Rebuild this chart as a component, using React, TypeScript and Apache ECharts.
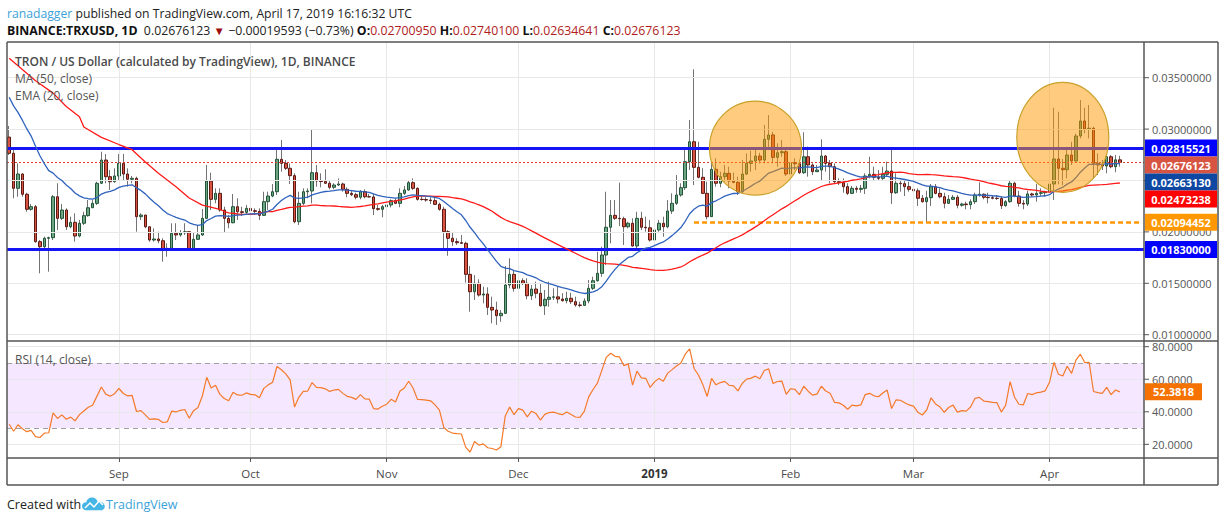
import React, { useEffect, useRef } from "react";
import * as echarts from "echarts";

const FONT = '"Open Sans", "Noto Sans", sans-serif';

// ---- time range (daily candles, Binance TRX/USD) ----
const START_DATE = "2018-08-07";
const AXIS_DAYS = 259; // Aug 7 2018 .. Apr 22 2019 (last candle Apr 17)
const MONTHS = ["Jan", "Feb", "Mar", "Apr", "May", "Jun", "Jul", "Aug", "Sep", "Oct", "Nov", "Dec"];

// ---- candles (open of each day = previous close on Binance) ----
const FIRST_OPEN = 0.02922;
const closes = [
  0.02765, 0.02424, 0.02563, 0.02366, 0.0222, 0.02245, 0.01905, 0.01856, 0.01938, 0.01944,
  0.02342, 0.02132, 0.02213, 0.0205, 0.02093, 0.0196, 0.02084, 0.02158, 0.02235, 0.02278,
  0.02473, 0.02699, 0.02537, 0.02488, 0.02544, 0.02667, 0.02563, 0.02512, 0.02521, 0.02148,
  0.02164, 0.0205, 0.01921, 0.01931, 0.01914, 0.01833, 0.0184, 0.01986, 0.0197, 0.01992,
  0.02002, 0.01833, 0.01928, 0.0197, 0.02132, 0.02495, 0.02317, 0.02375, 0.02213, 0.02132,
  0.02089, 0.02245, 0.02196, 0.0219, 0.02229, 0.02206, 0.022, 0.02161, 0.02294, 0.02349,
  0.02391, 0.02706, 0.02667, 0.02619, 0.02547, 0.02099, 0.02278, 0.02391, 0.02398, 0.02576,
  0.02495, 0.0249, 0.02473, 0.02434, 0.02456, 0.02466, 0.02414, 0.02375, 0.02362, 0.02337,
  0.02391, 0.02342, 0.0234, 0.02226, 0.0222, 0.02245, 0.02262, 0.02304, 0.02278, 0.02375,
  0.02408, 0.02479, 0.02424, 0.02317, 0.02315, 0.0231, 0.02304, 0.02268, 0.0222, 0.02002,
  0.01938, 0.01905, 0.01895, 0.01889, 0.01587, 0.01418, 0.015, 0.01386, 0.01396, 0.01266,
  0.0124, 0.01185, 0.01208, 0.01483, 0.01587, 0.01451, 0.01525, 0.015, 0.01379, 0.01444,
  0.01403, 0.01282, 0.01344, 0.01364, 0.01368, 0.01347, 0.01331, 0.01354, 0.01321, 0.01289,
  0.01285, 0.01328, 0.01451, 0.01525, 0.01597, 0.01775, 0.02045, 0.02161, 0.02132, 0.02128,
  0.0205, 0.02084, 0.01863, 0.02132, 0.02045, 0.0204, 0.01921, 0.02019, 0.02084, 0.0205,
  0.02203, 0.02278, 0.02359, 0.0243, 0.02683, 0.02877, 0.02628, 0.02531, 0.02375, 0.02148,
  0.02609, 0.02473, 0.02537, 0.0257, 0.02495, 0.02482, 0.02391, 0.02563, 0.02667, 0.0269,
  0.02738, 0.02699, 0.02901, 0.02943, 0.02725, 0.0277, 0.0278, 0.02563, 0.02673, 0.02663,
  0.02576, 0.02731, 0.02651, 0.02586, 0.02602, 0.02738, 0.02667, 0.02634, 0.02488, 0.02479,
  0.0244, 0.02375, 0.02424, 0.02414, 0.02424, 0.02544, 0.0256, 0.02531, 0.02521, 0.0256,
  0.02592, 0.02381, 0.02473, 0.02469, 0.0244, 0.02414, 0.024, 0.02327, 0.02294, 0.02333,
  0.0244, 0.02375, 0.02342, 0.02278, 0.02317, 0.02337, 0.02259, 0.02271, 0.02265, 0.02294,
  0.02359, 0.02366, 0.02337, 0.02333, 0.02327, 0.02325, 0.02255, 0.02294, 0.02473, 0.02349,
  0.02278, 0.02271, 0.02369, 0.02359, 0.02375, 0.02381, 0.02391, 0.02466, 0.02709, 0.02619,
  0.02605, 0.02748, 0.0269, 0.02933, 0.03079, 0.03001, 0.03008, 0.02667, 0.02651, 0.02641,
  0.02731, 0.02634, 0.02701, 0.02676123,
];
const highs = [
  0.0303, 0.02797, 0.02667, 0.0257, 0.0238, 0.02271, 0.02262, 0.01921, 0.01953, 0.01953,
  0.02359, 0.02473, 0.02271, 0.02229, 0.02148, 0.02181, 0.02116, 0.02196, 0.0231, 0.0231,
  0.02488, 0.0278, 0.02758, 0.02602, 0.02619, 0.02758, 0.02758, 0.02619, 0.02544, 0.02537,
  0.02181, 0.02148, 0.0205, 0.02035, 0.02002, 0.01938, 0.01889, 0.02084, 0.02084, 0.02018,
  0.02084, 0.02002, 0.01992, 0.02067, 0.02223, 0.02651, 0.02576, 0.02424, 0.02424, 0.02245,
  0.02164, 0.02369, 0.02327, 0.02245, 0.02262, 0.02245, 0.02229, 0.02229, 0.02391, 0.02391,
  0.02466, 0.02797, 0.02894, 0.02699, 0.02667, 0.0257, 0.02391, 0.02424, 0.02424, 0.02991,
  0.02651, 0.0257, 0.02609, 0.02505, 0.02473, 0.02521, 0.02479, 0.02434, 0.02408, 0.02381,
  0.02408, 0.02414, 0.02369, 0.02369, 0.02262, 0.02262, 0.02294, 0.02317, 0.02327, 0.02424,
  0.02447, 0.02498, 0.02521, 0.02434, 0.02359, 0.02337, 0.02337, 0.02337, 0.02284, 0.02245,
  0.02018, 0.01992, 0.01938, 0.0197, 0.01905, 0.01668, 0.0158, 0.01539, 0.01467, 0.01461,
  0.0137, 0.01321, 0.0124, 0.01668, 0.01743, 0.01629, 0.0158, 0.01549, 0.01549, 0.01483,
  0.01516, 0.015, 0.01435, 0.01516, 0.01451, 0.01467, 0.01403, 0.01418, 0.01408, 0.0137,
  0.01321, 0.01354, 0.01532, 0.01564, 0.01807, 0.01856, 0.02391, 0.0231, 0.0231, 0.02479,
  0.02148, 0.02099, 0.02132, 0.02196, 0.02196, 0.02148, 0.02116, 0.02067, 0.02116, 0.02148,
  0.0231, 0.02375, 0.02553, 0.02473, 0.02797, 0.03089, 0.03582, 0.02877, 0.02619, 0.02488,
  0.02683, 0.02716, 0.02586, 0.02651, 0.02634, 0.02576, 0.02537, 0.02699, 0.02764, 0.0279,
  0.02803, 0.0277, 0.0304, 0.03137, 0.02972, 0.02862, 0.02894, 0.02813, 0.02716, 0.02716,
  0.02699, 0.02969, 0.02829, 0.02667, 0.02651, 0.02901, 0.02748, 0.02699, 0.02667, 0.02521,
  0.02521, 0.02473, 0.02447, 0.02447, 0.02456, 0.0257, 0.02731, 0.02634, 0.02602, 0.02634,
  0.02683, 0.02823, 0.0257, 0.02505, 0.02505, 0.02488, 0.02447, 0.02424, 0.02359, 0.024,
  0.02466, 0.02466, 0.02424, 0.02381, 0.02359, 0.02359, 0.02359, 0.02284, 0.02294, 0.02317,
  0.02381, 0.02482, 0.02375, 0.02381, 0.02359, 0.02359, 0.02349, 0.0231, 0.02498, 0.02488,
  0.024, 0.0231, 0.024, 0.02381, 0.02466, 0.02424, 0.024, 0.02553, 0.03208, 0.03169,
  0.02709, 0.02797, 0.02877, 0.02956, 0.03283, 0.03208, 0.03234, 0.03023, 0.02764, 0.02699,
  0.02741, 0.02748, 0.02748, 0.027401,
];
const lows = [
  0.02748, 0.02327, 0.02342, 0.02342, 0.02196, 0.02206, 0.01895, 0.01597, 0.01824, 0.01613,
  0.01921, 0.02018, 0.02116, 0.02018, 0.02035, 0.01905, 0.01947, 0.02067, 0.02148, 0.02245,
  0.02262, 0.02466, 0.02473, 0.02408, 0.02479, 0.02505, 0.02505, 0.0244, 0.02473, 0.02002,
  0.02116, 0.02035, 0.01905, 0.01905, 0.01889, 0.0171, 0.01759, 0.01824, 0.01921, 0.01953,
  0.0197, 0.01824, 0.0183, 0.01921, 0.0196, 0.02132, 0.02213, 0.02278, 0.02196, 0.01995,
  0.02035, 0.02084, 0.02116, 0.02155, 0.02164, 0.02164, 0.02164, 0.02116, 0.02155, 0.02213,
  0.02337, 0.02359, 0.02586, 0.02602, 0.02466, 0.02084, 0.02067, 0.02262, 0.02327, 0.02278,
  0.0244, 0.02434, 0.02466, 0.02414, 0.02414, 0.02447, 0.02391, 0.02337, 0.02349, 0.02317,
  0.02317, 0.02327, 0.02337, 0.02164, 0.02206, 0.02142, 0.0222, 0.02239, 0.02271, 0.02239,
  0.02359, 0.024, 0.02408, 0.02304, 0.02304, 0.02294, 0.02271, 0.02262, 0.02206, 0.01831,
  0.01768, 0.01863, 0.01873, 0.01882, 0.01506, 0.01224, 0.01338, 0.0137, 0.01305, 0.01192,
  0.01111, 0.01095, 0.01126, 0.01201, 0.01451, 0.01418, 0.01386, 0.01483, 0.01344, 0.01338,
  0.01354, 0.01272, 0.01192, 0.01272, 0.01338, 0.01305, 0.01321, 0.01305, 0.01299, 0.01272,
  0.01266, 0.01289, 0.01305, 0.01435, 0.01516, 0.01564, 0.01678, 0.01889, 0.02116, 0.02057,
  0.01873, 0.02035, 0.01856, 0.0183, 0.02018, 0.02002, 0.01905, 0.01889, 0.02002, 0.01953,
  0.02035, 0.02174, 0.02262, 0.02342, 0.02408, 0.02602, 0.02456, 0.02521, 0.02369, 0.02122,
  0.02148, 0.0244, 0.02434, 0.02488, 0.02424, 0.02473, 0.02359, 0.02369, 0.02553, 0.02586,
  0.02602, 0.02667, 0.02667, 0.02813, 0.02667, 0.02634, 0.02731, 0.02544, 0.02434, 0.02602,
  0.02563, 0.02563, 0.02537, 0.02553, 0.02586, 0.02505, 0.02586, 0.02473, 0.02473, 0.02456,
  0.02381, 0.02359, 0.02369, 0.02381, 0.02381, 0.02369, 0.02521, 0.02505, 0.02505, 0.02505,
  0.02537, 0.02271, 0.02369, 0.02391, 0.02349, 0.02391, 0.02391, 0.02252, 0.02284, 0.0209,
  0.02252, 0.02366, 0.02327, 0.02229, 0.02271, 0.0231, 0.02229, 0.02245, 0.0222, 0.0222,
  0.02271, 0.02342, 0.02317, 0.02278, 0.02317, 0.0231, 0.02223, 0.02245, 0.02284, 0.02337,
  0.02245, 0.0222, 0.02252, 0.02342, 0.02294, 0.02349, 0.02342, 0.02342, 0.0231, 0.02463,
  0.02456, 0.02521, 0.02651, 0.02683, 0.0291, 0.02959, 0.0291, 0.02521, 0.02553, 0.02602,
  0.0257, 0.02619, 0.0258, 0.02634641,
];

// ---- indicator settings / values ----
const MA_PERIOD = 50;
const EMA_PERIOD = 20;
const RSI_PERIOD = 14;
// MA(50) before 50 candles exist in the window: [candle index, value]
const ma50Head: [number, number][] = [
  [0, 0.0369], [6, 0.0347], [10, 0.0335], [13, 0.0322], [16, 0.0312], [17, 0.0302],
  [21, 0.0292], [25, 0.0285], [28, 0.028], [31, 0.0268], [34, 0.0257], [38, 0.0244],
  [41, 0.0233], [44, 0.0226], [48, 0.0222],
];
const EMA20_SEED = 0.0331; // EMA value at the first visible candle
const RSI_SEED_GAIN = 0.00055; // Wilder averages at the first visible candle
const RSI_SEED_LOSS = 0.00115;

// ---- drawn levels & tags ----
const RESISTANCE = 0.02815521;
const SUPPORT = 0.0183;
const LAST_PRICE = 0.02676123;
const SWING_LOW = 0.02094452;
const SWING_LOW_FROM = "2019-01-10";
const tagValues = [0.02815521, 0.02676123, 0.0266313, 0.02473238, 0.02094452, 0.0183];
const tagColors = ["#0000ff", "#d75442", "#0d47a1", "#ff0000", "#ff9800", "#0000ff"];
const RSI_LAST = 52.3818;
const priceTicks = [0.01, 0.015, 0.02, 0.025, 0.03, 0.035];
const rsiTicks = [20, 40, 60, 80];
const rsiBand = [30, 70];
// highlighted zones: [centre date, centre price]
const zoneCentres: [string, number][] = [["2019-01-24", 0.02815], ["2019-04-04", 0.0292]];
const zoneRadii: [number, number][] = [[46, 47], [46, 55]];

const PRICE_MIN = 0.009387;
const PRICE_MAX = 0.038473;
const RSI_MIN = 11.6;
const RSI_MAX = 83.5;

const shapeReg: any = (echarts as any).graphic;
try {
  shapeReg.registerShape(
    "tvlogo",
    shapeReg.extendPath(
      "M5 14 C2 14 0 12 0 9.5 C0 7 2 5.5 4.5 5.5 C5 2.5 7.5 0.5 10.5 0.5 C13.5 0.5 15.8 2.5 16.5 5 C17 4.8 17.5 4.7 18 4.7 C21.3 4.7 24 7.2 24 10 C24 12.3 22 14 19.5 14 Z",
      {}
    )
  );
} catch (e) {
  /* already registered */
}

function dayList(start: string, n: number): string[] {
  const t0 = Date.parse(start + "T00:00:00Z");
  const out: string[] = [];
  for (let i = 0; i < n; i++) out.push(new Date(t0 + i * 86400000).toISOString().slice(0, 10));
  return out;
}

export default function App() {
  const ref = useRef<HTMLDivElement>(null);

  useEffect(() => {
    const el = ref.current!;
    const chart = echarts.init(el, null, { renderer: "svg" });

    const dates = dayList(START_DATE, AXIS_DAYS);
    const monthStarts = dates.filter((d) => d.endsWith("-01"));
    const opens = closes.map((c, i) => (i === 0 ? FIRST_OPEN : closes[i - 1]));

    const full = closes.map((c, i) => {
      const o = opens[i];
      return [o, c, Math.min(lows[i], o, c), Math.max(highs[i], o, c)];
    });
    const bodies = closes.map((c, i) => {
      const o = opens[i];
      return [o, c, Math.min(o, c), Math.max(o, c)];
    });

    // EMA(20)
    const kE = 2 / (EMA_PERIOD + 1);
    const ema: number[] = [];
    closes.forEach((c, i) => ema.push(i === 0 ? EMA20_SEED : ema[i - 1] + kE * (c - ema[i - 1])));
    // MA(50)
    const ma = closes.map((_, i) => {
      if (i >= MA_PERIOD - 1) {
        let s = 0;
        for (let j = i - MA_PERIOD + 1; j <= i; j++) s += closes[j];
        return s / MA_PERIOD;
      }
      const h = ma50Head.find((p) => p[0] === i);
      return h ? h[1] : null;
    });
    // RSI(14), Wilder
    let g = RSI_SEED_GAIN;
    let l = RSI_SEED_LOSS;
    const rsi = closes.map((c, i) => {
      if (i > 0) {
        const ch = c - closes[i - 1];
        g = (g * (RSI_PERIOD - 1) + Math.max(ch, 0)) / RSI_PERIOD;
        l = (l * (RSI_PERIOD - 1) + Math.max(-ch, 0)) / RSI_PERIOD;
      }
      return 100 - 100 / (1 + g / l);
    });

    const isMonthStart = (_: number, v: string) => String(v).endsWith("-01");
    const grey = "#e8e8e8";

    const option: any = {
      animation: false,
      backgroundColor: "#ffffff",
      textStyle: { fontFamily: FONT },
      grid: [
        { left: 7, top: 42, width: 1137, height: 299 },
        { left: 7, top: 341, width: 1137, height: 117 },
      ],
      xAxis: [
        { type: "category", gridIndex: 0, data: dates, boundaryGap: true, show: false },
        {
          type: "category",
          gridIndex: 1,
          data: dates,
          boundaryGap: true,
          axisLine: { show: false },
          splitLine: { show: false },
          axisTick: {
            show: true,
            alignWithLabel: true,
            interval: isMonthStart,
            length: 4,
            lineStyle: { color: "#555" },
          },
          axisLabel: {
            interval: isMonthStart,
            margin: 9,
            color: "#4a4a4a",
            fontSize: 11.5,
            fontFamily: FONT,
            formatter: (v: string) => {
              const m = +v.slice(5, 7);
              return m === 1 ? "{y|" + v.slice(0, 4) + "}" : MONTHS[m - 1];
            },
            rich: { y: { fontWeight: "bold", color: "#333", fontSize: 11.5, fontFamily: FONT } },
          },
        },
      ],
      yAxis: [
        { type: "value", gridIndex: 0, min: PRICE_MIN, max: PRICE_MAX, show: false },
        { type: "value", gridIndex: 1, min: RSI_MIN, max: RSI_MAX, show: false },
      ],
      series: [
        // price grid lines + price axis labels
        {
          type: "line",
          xAxisIndex: 0,
          yAxisIndex: 0,
          data: [],
          z: 1,
          silent: true,
          markLine: {
            silent: true,
            precision: 8,
            symbol: ["none", "none"],
            animation: false,
            lineStyle: { color: grey, width: 1, type: "solid" },
            label: {
              show: true,
              position: "end",
              distance: 8,
              color: "#555",
              fontSize: 11,
              fontFamily: FONT,
              formatter: (p: any) => Number(p.value).toFixed(8),
            },
            data: priceTicks.map((v) => ({ yAxis: v })),
          },
        },
        {
          type: "line",
          xAxisIndex: 0,
          yAxisIndex: 0,
          data: [],
          z: 1,
          silent: true,
          markLine: {
            silent: true,
            symbol: ["none", "none"],
            animation: false,
            lineStyle: { color: grey, width: 1, type: "solid" },
            label: { show: false },
            data: monthStarts.map((d) => ({ xAxis: d })),
          },
        },
        // RSI grid, band and labels
        {
          type: "line",
          xAxisIndex: 1,
          yAxisIndex: 1,
          data: [],
          z: 1,
          silent: true,
          markArea: {
            silent: true,
            itemStyle: { color: "rgba(153,21,255,0.1)" },
            data: [[{ yAxis: rsiBand[0] }, { yAxis: rsiBand[1] }]],
          },
          markLine: {
            silent: true,
            precision: 4,
            symbol: ["none", "none"],
            animation: false,
            data: [
              ...rsiTicks.map((v) => ({
                yAxis: v,
                lineStyle: { color: grey, width: 1, type: "solid" },
                label: {
                  show: true,
                  position: "end",
                  distance: 8,
                  color: "#555",
                  fontSize: 11,
                  fontFamily: FONT,
                  formatter: (p: any) => Number(p.value).toFixed(4),
                },
              })),
              ...rsiBand.map((v) => ({
                yAxis: v,
                lineStyle: { color: "#a0a0a0", width: 1, type: [5, 4] },
                label: { show: false },
              })),
              ...monthStarts.map((d) => ({
                xAxis: d,
                lineStyle: { color: grey, width: 1, type: "solid" },
                label: { show: false },
              })),
            ],
          },
        },
        // wicks
        {
          type: "candlestick",
          xAxisIndex: 0,
          yAxisIndex: 0,
          data: full,
          barWidth: 1,
          z: 3,
          silent: true,
          itemStyle: {
            color: "#737375",
            color0: "#737375",
            borderColor: "#737375",
            borderColor0: "#737375",
            borderWidth: 1,
          },
        },
        // bodies
        {
          type: "candlestick",
          xAxisIndex: 0,
          yAxisIndex: 0,
          data: bodies,
          barWidth: 3,
          z: 4,
          silent: true,
          itemStyle: {
            color: "#6ba583",
            color0: "#d75442",
            borderColor: "#225437",
            borderColor0: "#5b1a13",
            borderWidth: 1,
          },
        },
        {
          name: "MA (50, close)",
          type: "line",
          xAxisIndex: 0,
          yAxisIndex: 0,
          data: ma,
          connectNulls: true,
          showSymbol: false,
          z: 5,
          silent: true,
          lineStyle: { color: "#ff1a1a", width: 1.3 },
        },
        {
          name: "EMA (20, close)",
          type: "line",
          xAxisIndex: 0,
          yAxisIndex: 0,
          data: ema,
          showSymbol: false,
          z: 5,
          silent: true,
          lineStyle: { color: "#2f63bd", width: 1.3 },
        },
        // drawn levels
        {
          type: "line",
          xAxisIndex: 0,
          yAxisIndex: 0,
          data: [],
          z: 6,
          silent: true,
          markLine: {
            silent: true,
            precision: 8,
            symbol: ["none", "none"],
            animation: false,
            label: { show: false },
            data: [
              { yAxis: RESISTANCE, lineStyle: { color: "#1414f5", width: 3, type: "solid" } },
              { yAxis: SUPPORT, lineStyle: { color: "#1414f5", width: 3, type: "solid" } },
              { yAxis: LAST_PRICE, lineStyle: { color: "#e0392f", width: 1, type: [2, 2] } },
              [
                { coord: [SWING_LOW_FROM, SWING_LOW], lineStyle: { color: "#ff9800", width: 2.5, type: [5, 3] } },
                { coord: [dates[dates.length - 1], SWING_LOW] },
              ],
            ],
          },
        },
        {
          name: "RSI (14, close)",
          type: "line",
          xAxisIndex: 1,
          yAxisIndex: 1,
          data: rsi,
          showSymbol: false,
          z: 5,
          silent: true,
          lineStyle: { color: "#f47a2a", width: 1.2 },
        },
      ],
    };

    chart.setOption(option);

    // ---------- overlays positioned through the chart's own scales ----------
    const frame = "#555555";
    const line = (x1: number, y1: number, x2: number, y2: number, w = 1.5, c = frame) => ({
      type: "line",
      z: 200,
      silent: true,
      shape: { x1, y1, x2, y2 },
      style: { stroke: c, lineWidth: w },
    });

    const elements: any[] = [];

    // highlighted zones
    zoneCentres.forEach(([d, p], k) => {
      const [cx, cy] = chart.convertToPixel({ gridIndex: 0 } as any, [dates.indexOf(d), p]) as number[];
      elements.push({
        type: "ellipse",
        z: 120,
        silent: true,
        shape: { cx, cy, rx: zoneRadii[k][0], ry: zoneRadii[k][1] },
        style: { fill: "rgba(255,152,0,0.5)", stroke: "#c9a12a", lineWidth: 1.2 },
      });
    });

    // frame
    elements.push(line(7, 42, 1218, 42));
    elements.push(line(7, 42, 7, 485));
    elements.push(line(1218, 42, 1218, 485));
    elements.push(line(7, 485, 1218, 485));
    elements.push(line(1144, 42, 1144, 485));
    elements.push(line(7, 341, 1218, 341));
    elements.push(line(7, 458, 1218, 458));

    // axis tick marks
    priceTicks.forEach((v) => {
      const y = chart.convertToPixel({ yAxisIndex: 0 } as any, v) as number;
      elements.push(line(1144, y, 1149, y, 1, "#555"));
    });
    rsiTicks.forEach((v) => {
      const y = chart.convertToPixel({ yAxisIndex: 1 } as any, v) as number;
      elements.push(line(1144, y, 1149, y, 1, "#555"));
    });

    // price tags (stacked so they do not overlap)
    const tags = tagValues
      .map((v, i) => ({ v, c: tagColors[i], y: chart.convertToPixel({ yAxisIndex: 0 } as any, v) as number }))
      .sort((a, b) => a.y - b.y);
    const TAG_H = 17;
    for (let i = 1; i < tags.length; i++) tags[i].y = Math.max(tags[i].y, tags[i - 1].y + TAG_H);
    tags.forEach((t) => {
      elements.push({
        type: "rect",
        z: 210,
        silent: true,
        shape: { x: 1145, y: t.y - TAG_H / 2, width: 72, height: TAG_H },
        style: { fill: t.c },
      });
      elements.push({
        type: "text",
        z: 211,
        silent: true,
        x: 1181,
        y: t.y,
        style: {
          text: t.v.toFixed(8),
          fill: "#ffffff",
          font: "bold 11px " + FONT,
          textAlign: "center",
          textVerticalAlign: "middle",
          verticalAlign: "middle",
        },
      });
    });
    const ry = chart.convertToPixel({ yAxisIndex: 1 } as any, RSI_LAST) as number;
    elements.push({
      type: "rect",
      z: 210,
      silent: true,
      shape: { x: 1145, y: ry - 8.5, width: 57, height: 17 },
      style: { fill: "#f57200" },
    });
    elements.push({
      type: "text",
      z: 211,
      silent: true,
      x: 1173.5,
      y: ry,
      style: {
        text: RSI_LAST.toFixed(4),
        fill: "#ffffff",
        font: "bold 11px " + FONT,
        textAlign: "center",
        textVerticalAlign: "middle",
        verticalAlign: "middle",
      },
    });

    // header
    const txt = (x: number, y: number, text: string, rich: any, font: string, fill = "#222") => ({
      type: "text",
      z: 220,
      silent: true,
      x,
      y,
      style: { text, rich, font, fill, textVerticalAlign: "middle", verticalAlign: "middle" },
    });
    const F = (w: string, size: number, color: string) => ({
      fontWeight: w,
      fontSize: size,
      fontFamily: FONT,
      fill: color,
      color,
    });
    elements.push(
      txt(
        7,
        13,
        "{u|ranadagger}{t| published on TradingView.com, April 17, 2019 16:16:32 UTC}",
        { u: F("normal", 12.2, "#3ba2d8"), t: F("normal", 12.2, "#222") },
        "12.2px " + FONT
      )
    );
    elements.push(
      txt(
        7,
        30,
        "{b|BINANCE:TRXUSD, 1D}{n|  0.02676123 }{d|▼}{n| −0.00019593 (−0.73%) }{b|O:}{r|0.02700950}{b| H:}{r|0.02740100}{b| L:}{r|0.02634641}{b| C:}{r|0.02676123}",
        {
          b: F("bold", 12.3, "#111"),
          n: F("normal", 12.3, "#222"),
          d: F("normal", 11.5, "#9b0d0d"),
          r: F("normal", 12.3, "#b01b1b"),
        },
        "12.3px " + FONT
      )
    );
    // legend in pane
    elements.push(txt(15, 61, "TRON / US Dollar (calculated by TradingView), 1D, BINANCE", null, "600 12px " + FONT, "#4a4a4a"));
    elements.push(txt(15, 78, "MA (50, close)", null, "12px " + FONT, "#555"));
    elements.push(txt(15, 95, "EMA (20, close)", null, "12px " + FONT, "#555"));
    elements.push(txt(15, 359, "RSI (14, close)", null, "12px " + FONT, "#555"));

    // footer
    elements.push(txt(7, 504, "Created with", null, "12.5px " + FONT, "#222"));
    elements.push({
      type: "tvlogo",
      z: 220,
      silent: true,
      x: 82,
      y: 497,
      scaleX: 0.95,
      scaleY: 0.95,
      style: { fill: "#45b5e6" },
    });
    elements.push({
      type: "polyline",
      z: 221,
      silent: true,
      shape: { points: [[85, 508], [90, 503], [94, 507], [99, 501], [103, 505]] },
      style: { stroke: "#ffffff", lineWidth: 1.5, fill: null },
    });
    elements.push(txt(106, 504, "TradingView", null, "12.5px " + FONT, "#3ba2d8"));

    chart.setOption({ graphic: { elements } });

    return () => chart.dispose();
  }, []);

  return (
    <div
      ref={ref}
      style={{ position: "absolute", left: 0, top: 0, width: 1225, height: 522, background: "#ffffff" }}
    />
  );
}
